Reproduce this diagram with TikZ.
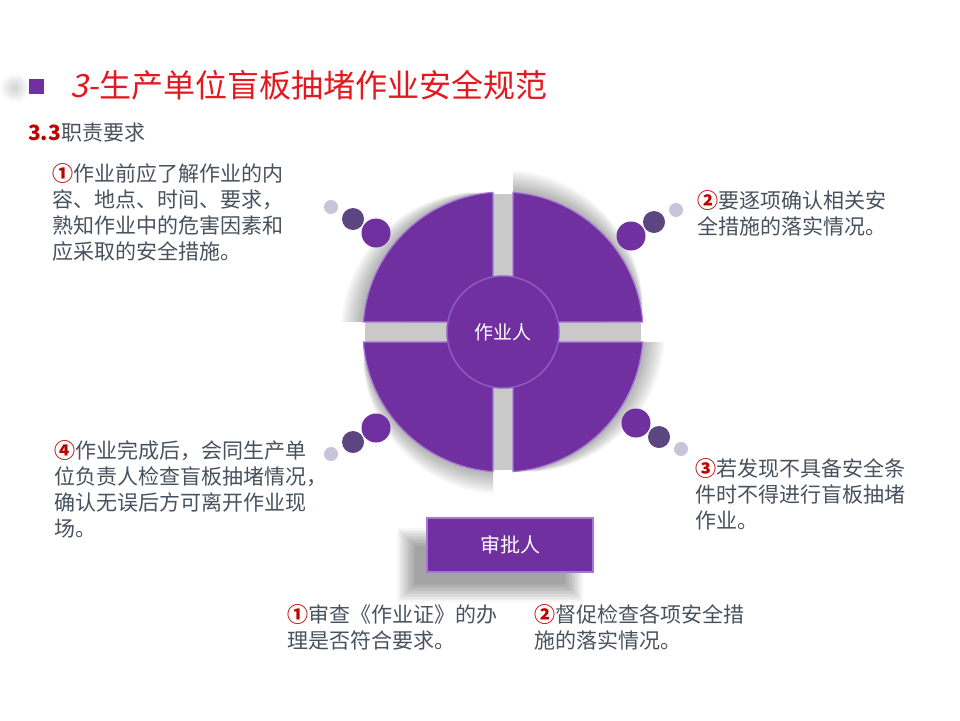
\documentclass[tikz,border=0pt]{standalone}
\usepackage{fontspec}
\setmainfont{Noto Sans CJK SC}
\newfontfamily\slantfont[FakeSlant=0.22]{Noto Sans CJK SC}
\usetikzlibrary{calc,positioning,backgrounds}
\definecolor{mainpurple}{HTML}{7030A0}
\definecolor{edgepurple}{HTML}{A678D6}
\definecolor{darkpurple}{HTML}{5C4682}
\definecolor{palepurple}{HTML}{CAC4DA}
\definecolor{titlered}{HTML}{E3191F}
\definecolor{numred}{HTML}{C00000}
\definecolor{bodygray}{HTML}{48525E}
\newcommand{\circnum}[1]{\textcolor{numred}{\bfseries #1}}

\begin{document}
\begin{tikzpicture}[
  x=1pt, y=-1pt,
  every node/.style={inner sep=0pt, text=bodygray},
  bodytext/.style={anchor=west, align=left, font=\fontsize{21pt}{26pt}\selectfont},
  hub/.style={circle, fill=mainpurple, draw=edgepurple!60!mainpurple, line width=1.5pt,
    minimum size=112pt, text=white, font=\fontsize{19pt}{19pt}\selectfont},
  rolebox/.style={rectangle, fill=mainpurple, draw=edgepurple, line width=1.5pt,
    minimum width=166pt, minimum height=54pt, text=white, font=\fontsize{20pt}{20pt}\selectfont},
  quadrant/.style={fill=mainpurple, draw=edgepurple, line width=1.2pt},
]
\useasboundingbox (0,0) rectangle (960,720);

% Title
\foreach \r in {4,6,...,14}
  \fill[black, opacity=0.025] (15,88) circle[radius=\r];
\node[fill=mainpurple, minimum size=15pt] (bullet) at (36.5,86) {};
\node[anchor=west, text=titlered, font=\fontsize{32pt}{32pt}\selectfont] (title) at (70,85)
  {{\slantfont 3-}生产单位盲板抽堵作业安全规范};
\node[anchor=west, font=\fontsize{21pt}{21pt}\selectfont] (sub) at (28,133)
  {\textcolor{numred}{\bfseries 3.3}职责要求};

% Disc with its four quarters
\coordinate (c) at (503,332);
\begin{scope}[shift={(c)}]
  \foreach \ang in {45,135,225,315}
    \foreach \k in {1,...,10}
      \fill[black, opacity=0.03, shift={(\ang-45:2.2*\k)}]
        (\ang:14.14) -- (\ang-40.9:140)
        arc[start angle=\ang-40.9, end angle=\ang+40.9, radius=140] -- cycle;
  \fill[gray!42] (0,0) circle[radius=138];
  \foreach \ang in {45,135,225,315}
    \filldraw[quadrant] (\ang:14.14) -- (\ang-40.9:140)
      arc[start angle=\ang-40.9, end angle=\ang+40.9, radius=140] -- cycle;
\end{scope}
\node[hub] (worker) at (c) {作业人};

% Beads at the corners
\foreach \bx/\by/\dx/\dy in {376/233/-1/-1, 631/236/1/-1, 376/428/-1/1, 636/423/1/1} {
  \fill[palepurple] (\bx+45*\dx, \by+26*\dy) circle[radius=7];
  \fill[darkpurple] (\bx+23*\dx, \by+14*\dy) circle[radius=11];
  \fill[mainpurple] (\bx,\by) circle[radius=14.5];
}

% Duties of the worker
\node[bodytext] (dutyA) at (52,212) {\circnum{①}作业前应了解作业的内\\容、地点、时间、要求，\\熟知作业中的危害因素和\\应采取的安全措施。};
\node[bodytext] (dutyB) at (697,213.5) {\circnum{②}要逐项确认相关安\\全措施的落实情况。};
\node[bodytext] (dutyC) at (695,494) {\circnum{③}若发现不具备安全条\\件时不得进行盲板抽堵\\作业。};
\node[bodytext] (dutyD) at (54,489) {\circnum{④}作业完成后，会同生产单\\位负责人检查盲板抽堵情况，\\确认无误后方可离开作业现\\场。};

% Approver
\node[rolebox] (approver) at (510,545) {审批人};
\node[bodytext] (checkA) at (287,627.5) {\circnum{①}审查《作业证》的办\\理是否符合要求。};
\node[bodytext, right=37pt of checkA] (checkB) {\circnum{②}督促检查各项安全措\\施的落实情况。};

\begin{scope}[on background layer]
  \fill[white] (0,0) rectangle (960,720);
  \foreach \k in {0,...,12}
    \fill[black, opacity=0.03]
      ($(approver.north west)+(-20-9+1.5*\k, 20-9+1.5*\k)$) rectangle
      ($(approver.south east)+(-20+9-1.5*\k, 20+9-1.5*\k)$);
\end{scope}
\end{tikzpicture}
\end{document}
